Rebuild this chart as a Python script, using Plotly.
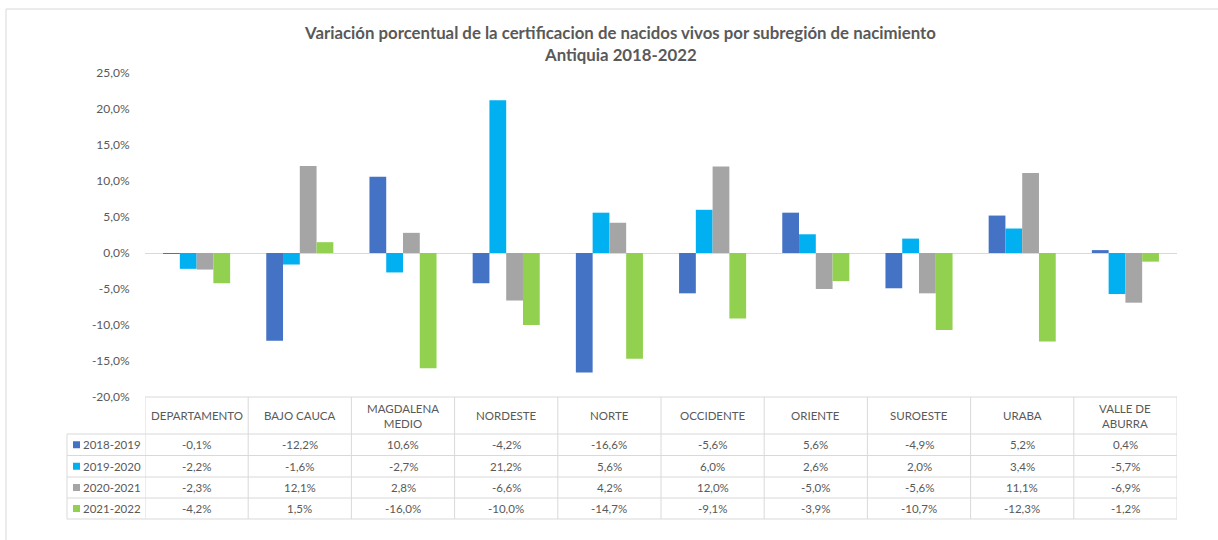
import plotly.graph_objects as go

# --- data ---
subregiones = ["DEPARTAMENTO", "BAJO CAUCA", "MAGDALENA MEDIO", "NORDESTE", "NORTE",
               "OCCIDENTE", "ORIENTE", "SUROESTE", "URABA", "VALLE DE ABURRA"]
encabezados = ["DEPARTAMENTO", "BAJO CAUCA", "MAGDALENA<br>MEDIO", "NORDESTE", "NORTE",
               "OCCIDENTE", "ORIENTE", "SUROESTE", "URABA", "VALLE DE<br>ABURRA"]
periodos = ["2018-2019", "2019-2020", "2020-2021", "2021-2022"]
var_2018_2019 = [-0.1, -12.2, 10.6, -4.2, -16.6, -5.6, 5.6, -4.9, 5.2, 0.4]
var_2019_2020 = [-2.2, -1.6, -2.7, 21.2, 5.6, 6.0, 2.6, 2.0, 3.4, -5.7]
var_2020_2021 = [-2.3, 12.1, 2.8, -6.6, 4.2, 12.0, -5.0, -5.6, 11.1, -6.9]
var_2021_2022 = [-4.2, 1.5, -16.0, -10.0, -14.7, -9.1, -3.9, -10.7, -12.3, -1.2]
y_ticks = [25, 20, 15, 10, 5, 0, -5, -10, -15, -20]

series = [var_2018_2019, var_2019_2020, var_2020_2021, var_2021_2022]
colores = ["#4472C4", "#00B0F0", "#A5A5A5", "#92D050"]

W, H = 1218, 540
L, R, T, B = 145, 1177, 73, 397  # plot area in pixels


def px(p):
    return (p - L) / (R - L)


def py(p):
    return (B - p) / (B - T)


def fmt(v):
    return f"{v:.1f}".replace(".", ",") + "%"


TXT = "#595959"
GRID = "#D9D9D9"
FONT = "Lato"

fig = go.Figure()
for nombre, vals, color in zip(periodos, series, colores):
    fig.add_trace(go.Bar(
        x=subregiones, y=vals, name=nombre, marker_color=color,
        marker_line_width=0,
        hovertemplate="%{x}: %{y:.1f}%<extra>" + nombre + "</extra>"
    ))

shapes = []
annotations = []


def texto(text, x, y, xref="paper", size=11, xanchor="center"):
    annotations.append(dict(text=text, xref=xref, yref="paper", x=x, y=y, showarrow=False,
                            xanchor=xanchor, yanchor="middle",
                            font=dict(size=size, color=TXT, family=FONT)))


# outer frame (top and left edges visible)
shapes.append(dict(type="line", xref="paper", yref="paper", x0=px(6), x1=px(W), y0=py(9), y1=py(9),
                   line=dict(color=GRID, width=1)))
shapes.append(dict(type="line", xref="paper", yref="paper", x0=px(6), x1=px(6), y0=py(9), y1=py(H),
                   line=dict(color=GRID, width=1)))

# title
texto("<b>Variación porcentual de la certificacion de nacidos vivos por subregión de nacimiento</b>",
      px(620), py(32), size=16.8)
texto("<b>Antiquia 2018-2022</b>", px(620), py(55), size=16.8)

# data table grid
head_top, head_bot = 397, 434
row_lines = [434, 455.5, 477, 498, 519]
n = len(subregiones)
shapes.append(dict(type="line", xref="x", yref="paper", x0=-0.5, x1=n - 0.5, y0=py(head_top), y1=py(head_top),
                   line=dict(color=GRID, width=1)))
for yl in row_lines:
    shapes.append(dict(type="line", xref="paper", yref="paper", x0=px(67), x1=1, y0=py(yl), y1=py(yl),
                       line=dict(color=GRID, width=1)))
shapes.append(dict(type="line", xref="paper", yref="paper", x0=px(67), x1=px(67),
                   y0=py(row_lines[0]), y1=py(row_lines[-1]), line=dict(color=GRID, width=1)))
for i in range(n + 1):
    shapes.append(dict(type="line", xref="x", yref="paper", x0=i - 0.5, x1=i - 0.5,
                       y0=py(head_top), y1=py(row_lines[-1]), line=dict(color=GRID, width=1)))

# header texts
for cat, lab in zip(subregiones, encabezados):
    texto(lab, cat, py((head_top + head_bot) / 2), xref="x", size=11.5)

# rows
for r, (nombre, vals, color) in enumerate(zip(periodos, series, colores)):
    yc = (row_lines[r] + row_lines[r + 1]) / 2
    shapes.append(dict(type="rect", xref="paper", yref="paper", x0=px(73), x1=px(80),
                       y0=py(yc + 3.5), y1=py(yc - 3.5), fillcolor=color, line=dict(width=0)))
    texto(nombre, px(81), py(yc), size=11.5, xanchor="left")
    for cat, v in zip(subregiones, vals):
        texto(fmt(v), cat, py(yc), xref="x", size=11.5)

fig.update_layout(
    width=W, height=H,
    margin=dict(l=L, r=W - R, t=T, b=H - B, pad=0),
    paper_bgcolor="white", plot_bgcolor="white",
    barmode="group", bargap=0.35, bargroupgap=0,
    showlegend=False,
    separators=",.",
    font=dict(family=FONT, color=TXT, size=11),
    xaxis=dict(showticklabels=False, showgrid=False, zeroline=False, showline=False, ticks="",
               range=[-0.5, n - 0.5], fixedrange=True),
    yaxis=dict(range=[-20, 25], tickvals=y_ticks, ticktext=[fmt(v) for v in y_ticks],
               showgrid=False, zeroline=True, zerolinecolor=GRID, zerolinewidth=1,
               showline=False, ticks="outside", ticklen=12, tickcolor="rgba(0,0,0,0)",
               tickfont=dict(size=12, color=TXT, family=FONT)),
    shapes=shapes,
    annotations=annotations,
)

fig.write_html("out.html", config={"displayModeBar": False},
               post_script="document.body.style.margin='0';")
